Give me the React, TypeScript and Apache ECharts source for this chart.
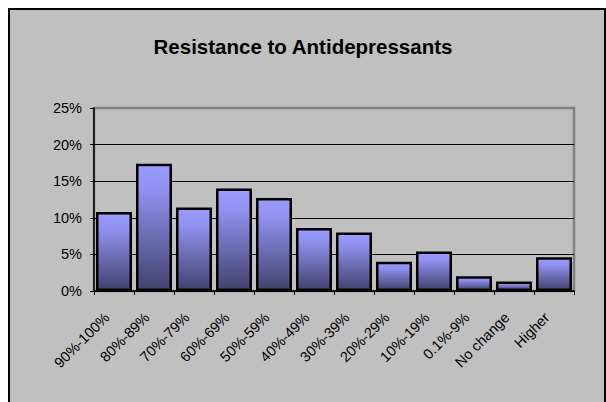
import React, { useEffect, useRef } from "react";
import * as echarts from "echarts";

const categories = [
  "90%-100%", "80%-89%", "70%-79%", "60%-69%", "50%-59%", "40%-49%",
  "30%-39%", "20%-29%", "10%-19%", "0.1%-9%", "No change", "Higher",
];
const values = [10.8, 17.4, 11.4, 14.0, 12.7, 8.6, 8.0, 4.0, 5.4, 2.0, 1.3, 4.6];
const yTicks = [0, 5, 10, 15, 20, 25];
const title = "Resistance to Antidepressants";

const FONT = "'Liberation Sans', Arial, sans-serif";

export default function App() {
  const ref = useRef<HTMLDivElement>(null);
  useEffect(() => {
    if (!ref.current) return;
    const chart = echarts.init(ref.current, undefined, { renderer: "svg" });
    chart.setOption({
      animation: false,
      backgroundColor: "transparent",
      title: {
        text: title,
        left: "center",
        top: 36,
        padding: 0,
        textStyle: { fontFamily: FONT, fontSize: 20.5, fontWeight: "bold", color: "#000" },
      },
      graphic: {
        elements: [
          {
            type: "rect",
            z: -100,
            silent: true,
            shape: { x: 9, y: 9, width: 596, height: 400 },
            style: { fill: "#c0c0c0", stroke: "#000", lineWidth: 2 },
          },
        ],
      },
      grid: {
        left: 94,
        right: 32,
        top: 108,
        bottom: 111,
        show: true,
        backgroundColor: "transparent",
        borderColor: "#808080",
        borderWidth: 2.5,
      },
      xAxis: {
        type: "category",
        data: categories,
        axisLine: { lineStyle: { color: "#000", width: 1.5 } },
        axisTick: { show: true, length: 4, lineStyle: { color: "#000" } },
        axisLabel: {
          interval: 0,
          rotate: 45,
          margin: 17,
          padding: [0, 10, 0, 0],
          fontFamily: FONT,
          fontSize: 14.5,
          color: "#000",
        },
      },
      yAxis: {
        type: "value",
        min: yTicks[0],
        max: yTicks[yTicks.length - 1],
        interval: 5,
        axisLine: { show: true, lineStyle: { color: "#000", width: 1.5 } },
        axisTick: { show: true, length: 4, lineStyle: { color: "#000" } },
        axisLabel: {
          formatter: "{value}%",
          margin: 12,
          fontFamily: FONT,
          fontSize: 14.5,
          color: "#000",
        },
        splitLine: {
          show: true,
          lineStyle: {
            color: ["#000", "#000", "#000", "#000", "#000", "#808080"],
            width: 1,
          },
        },
      },
      series: [
        {
          type: "bar",
          data: values,
          barWidth: 36,
          itemStyle: {
            borderColor: "#000",
            borderWidth: 2.5,
            color: new echarts.graphic.LinearGradient(0, 0, 0, 1, [
              { offset: 0, color: "#9a9aff" },
              { offset: 0.2, color: "#9191f0" },
              { offset: 1, color: "#42426e" },
            ]),
          },
        },
      ],
    });
    return () => chart.dispose();
  }, []);
  return (
    <div
      ref={ref}
      style={{ position: "absolute", left: 0, top: 0, width: 606, height: 402 }}
    />
  );
}
